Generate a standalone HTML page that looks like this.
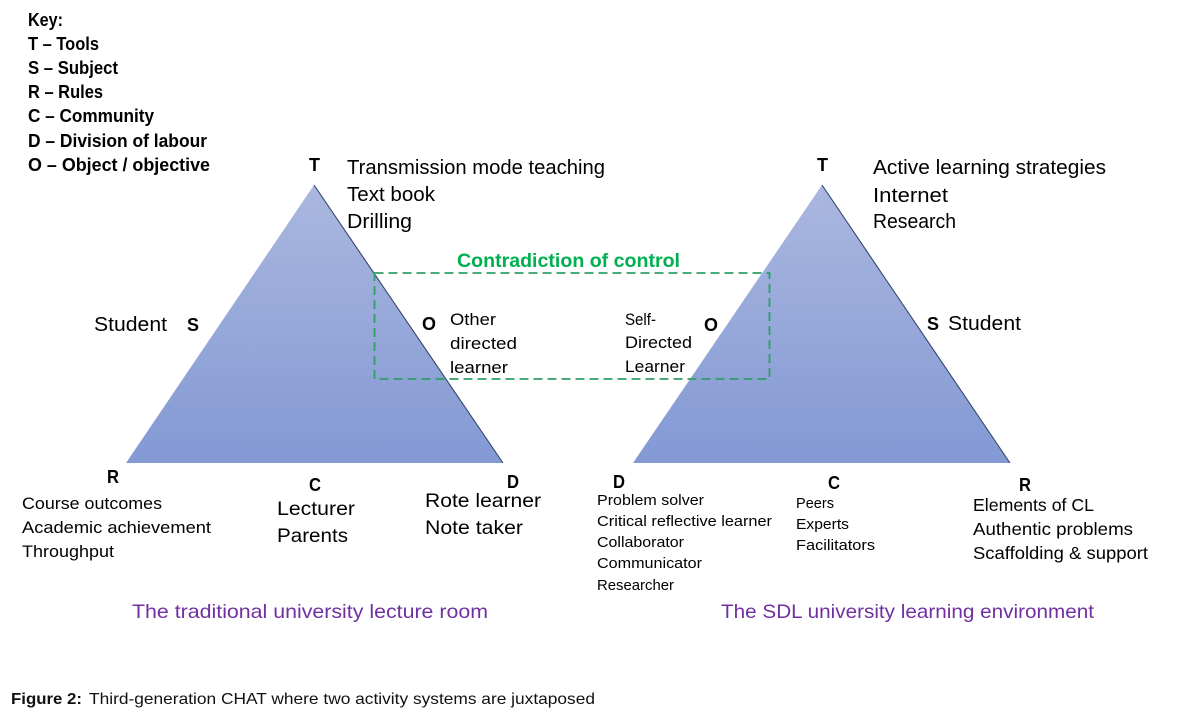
<!DOCTYPE html>
<html>
<head>
<meta charset="utf-8">
<style>
  html,body{margin:0;padding:0;background:#fff;}
  svg{display:block;}
  text{font-family:"Liberation Sans",Arial,sans-serif;fill:#000;}
  .b{font-weight:bold;}
</style>
</head>
<body>
<svg width="1183" height="727" viewBox="0 0 1183 727" xmlns="http://www.w3.org/2000/svg">
  <defs>
    <linearGradient id="tg" x1="0" y1="0" x2="0" y2="1">
      <stop offset="0" stop-color="#aab7df"/>
      <stop offset="1" stop-color="#8399d4"/>
    </linearGradient>
  </defs>
  <rect width="1183" height="727" fill="#fff"/>

  <!-- Key -->
  <g class="b" font-size="18">
    <text x="28" y="26" textLength="35" lengthAdjust="spacingAndGlyphs">Key:</text>
    <text x="28" y="50" textLength="71" lengthAdjust="spacingAndGlyphs">T – Tools</text>
    <text x="28" y="74" textLength="90" lengthAdjust="spacingAndGlyphs">S – Subject</text>
    <text x="28" y="98" textLength="75" lengthAdjust="spacingAndGlyphs">R – Rules</text>
    <text x="28" y="122" textLength="126" lengthAdjust="spacingAndGlyphs">C – Community</text>
    <text x="28" y="147" textLength="179" lengthAdjust="spacingAndGlyphs">D – Division of labour</text>
    <text x="28" y="171" textLength="182" lengthAdjust="spacingAndGlyphs">O – Object / objective</text>
  </g>

  <!-- Triangles -->
  <polygon points="314,185 126,463 503,463" fill="url(#tg)"/>
  <line x1="314" y1="185" x2="503" y2="463" stroke="#34446c" stroke-width="1.1"/>
  <polygon points="822,185 633,463 1010,463" fill="url(#tg)"/>
  <line x1="822" y1="185" x2="1010" y2="463" stroke="#34446c" stroke-width="1.1"/>

  <!-- Dashed contradiction box -->
  <rect x="374.5" y="273" width="395" height="106" fill="none" stroke="#2f9f66" stroke-width="1.8" stroke-dasharray="9 5"/>
  <text class="b" x="457" y="267" font-size="19.5" textLength="223" lengthAdjust="spacingAndGlyphs" style="fill:#00b050">Contradiction of control</text>

  <!-- Left system labels -->
  <text class="b" x="309" y="171" font-size="18" textLength="11" lengthAdjust="spacingAndGlyphs">T</text>
  <g font-size="20">
    <text x="347" y="174" textLength="258" lengthAdjust="spacingAndGlyphs">Transmission mode teaching</text>
    <text x="347" y="201" textLength="88" lengthAdjust="spacingAndGlyphs">Text book</text>
    <text x="347" y="228" textLength="65" lengthAdjust="spacingAndGlyphs">Drilling</text>
    <text x="94" y="331" textLength="73" lengthAdjust="spacingAndGlyphs">Student</text>
  </g>
  <text class="b" x="187" y="331" font-size="18">S</text>
  <text class="b" x="422" y="330" font-size="18" textLength="14" lengthAdjust="spacingAndGlyphs">O</text>
  <g font-size="17">
    <text x="450" y="325" textLength="46" lengthAdjust="spacingAndGlyphs">Other</text>
    <text x="450" y="349" textLength="67" lengthAdjust="spacingAndGlyphs">directed</text>
    <text x="450" y="373" textLength="58" lengthAdjust="spacingAndGlyphs">learner</text>
    <text x="625" y="325" textLength="31" lengthAdjust="spacingAndGlyphs">Self-</text>
    <text x="625" y="348" textLength="67" lengthAdjust="spacingAndGlyphs">Directed</text>
    <text x="625" y="372" textLength="60" lengthAdjust="spacingAndGlyphs">Learner</text>
  </g>
  <text class="b" x="704" y="331" font-size="18" textLength="14" lengthAdjust="spacingAndGlyphs">O</text>

  <!-- Right system top labels -->
  <text class="b" x="817" y="171" font-size="18" textLength="11" lengthAdjust="spacingAndGlyphs">T</text>
  <g font-size="20">
    <text x="873" y="174" textLength="233" lengthAdjust="spacingAndGlyphs">Active learning strategies</text>
    <text x="873" y="202" textLength="75" lengthAdjust="spacingAndGlyphs">Internet</text>
    <text x="873" y="228" textLength="83" lengthAdjust="spacingAndGlyphs">Research</text>
    <text x="948" y="330" textLength="73" lengthAdjust="spacingAndGlyphs">Student</text>
  </g>
  <text class="b" x="927" y="330" font-size="18">S</text>

  <!-- Left bottom -->
  <text class="b" x="107" y="483" font-size="18" textLength="12" lengthAdjust="spacingAndGlyphs">R</text>
  <text class="b" x="309" y="491" font-size="18" textLength="12" lengthAdjust="spacingAndGlyphs">C</text>
  <text class="b" x="507" y="488" font-size="18" textLength="12" lengthAdjust="spacingAndGlyphs">D</text>
  <g font-size="16.5">
    <text x="22" y="509" textLength="140" lengthAdjust="spacingAndGlyphs">Course outcomes</text>
    <text x="22" y="533" textLength="189" lengthAdjust="spacingAndGlyphs">Academic achievement</text>
    <text x="22" y="557" textLength="92" lengthAdjust="spacingAndGlyphs">Throughput</text>
  </g>
  <g font-size="19.5">
    <text x="277" y="515" textLength="78" lengthAdjust="spacingAndGlyphs">Lecturer</text>
    <text x="277" y="542" textLength="71" lengthAdjust="spacingAndGlyphs">Parents</text>
    <text x="425" y="507" textLength="116" lengthAdjust="spacingAndGlyphs">Rote learner</text>
    <text x="425" y="534" textLength="98" lengthAdjust="spacingAndGlyphs">Note taker</text>
  </g>
  <text x="132" y="618" font-size="19.5" textLength="356" lengthAdjust="spacingAndGlyphs" style="fill:#7030a0">The traditional university lecture room</text>

  <!-- Right bottom -->
  <text class="b" x="613" y="488" font-size="18" textLength="12" lengthAdjust="spacingAndGlyphs">D</text>
  <text class="b" x="828" y="489" font-size="18" textLength="12" lengthAdjust="spacingAndGlyphs">C</text>
  <text class="b" x="1019" y="491" font-size="18" textLength="12" lengthAdjust="spacingAndGlyphs">R</text>
  <g font-size="14.5">
    <text x="597" y="505" textLength="107" lengthAdjust="spacingAndGlyphs">Problem solver</text>
    <text x="597" y="526" textLength="175" lengthAdjust="spacingAndGlyphs">Critical reflective learner</text>
    <text x="597" y="547" textLength="87" lengthAdjust="spacingAndGlyphs">Collaborator</text>
    <text x="597" y="568" textLength="105" lengthAdjust="spacingAndGlyphs">Communicator</text>
    <text x="597" y="590" textLength="77" lengthAdjust="spacingAndGlyphs">Researcher</text>
    <text x="796" y="508" textLength="38" lengthAdjust="spacingAndGlyphs">Peers</text>
    <text x="796" y="529" textLength="53" lengthAdjust="spacingAndGlyphs">Experts</text>
    <text x="796" y="550" textLength="79" lengthAdjust="spacingAndGlyphs">Facilitators</text>
  </g>
  <g font-size="17.5">
    <text x="973" y="511" textLength="121" lengthAdjust="spacingAndGlyphs">Elements of CL</text>
    <text x="973" y="535" textLength="160" lengthAdjust="spacingAndGlyphs">Authentic problems</text>
    <text x="973" y="559" textLength="175" lengthAdjust="spacingAndGlyphs">Scaffolding &amp; support</text>
  </g>
  <text x="721" y="618" font-size="19.5" textLength="373" lengthAdjust="spacingAndGlyphs" style="fill:#7030a0">The SDL university learning environment</text>

  <!-- Figure caption -->
  <text class="b" x="11" y="704" font-size="16" textLength="71" lengthAdjust="spacingAndGlyphs" style="fill:#111">Figure 2:</text>
  <text x="89" y="704" font-size="16" textLength="506" lengthAdjust="spacingAndGlyphs" style="fill:#111">Third-generation CHAT where two activity systems are juxtaposed</text>
</svg>
</body>
</html>
